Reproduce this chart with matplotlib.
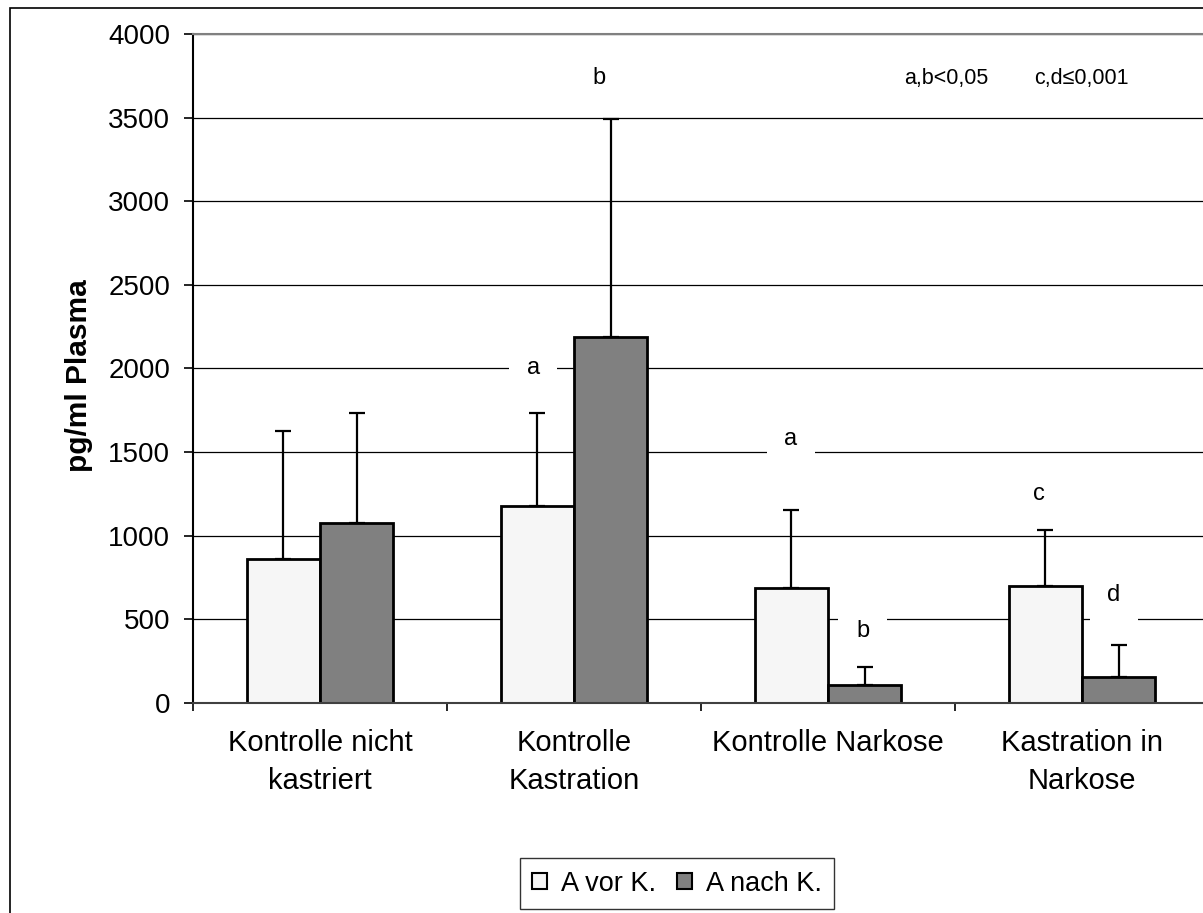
import matplotlib
matplotlib.use("Agg")
import matplotlib.pyplot as plt
from matplotlib.patches import Rectangle, Patch
import numpy as np

plt.rcParams['font.family'] = ['Liberation Sans', 'DejaVu Sans']

# Gruppen und Messwerte (pg/ml Plasma), Mittelwert und SD
gruppen = ["Kontrolle nicht\nkastriert", "Kontrolle\nKastration", "Kontrolle Narkose", "Kastration in\nNarkose"]
vor_k = [860, 1180, 685, 700]
vor_k_sd = [765, 552, 471, 334]
nach_k = [1075, 2190, 110, 155]
nach_k_sd = [657, 1302, 105, 194]
serien = ["A vor K.", "A nach K."]

# Signifikanzbuchstaben: (Text, x, y)
buchstaben = [("b", 1.098, 3735), ("a", 0.839, 2000), ("a", 1.854, 1580),
              ("b", 2.136, 430), ("c", 2.83, 1250), ("d", 3.126, 645)]
p_werte = [("a,b<0,05", 2.465, 3735), ("c,d\u22640,001", 2.996, 3735)]

fig = plt.figure(figsize=(12.03, 9.13), dpi=100)
ax = fig.add_axes([0.1604, 0.2300, 0.8446, 0.7328])

x = np.arange(len(gruppen))
breite = 0.289
farbe_vor = "#f6f6f6"
farbe_nach = "#808080"

ax.bar(x - breite / 2, vor_k, breite, color=farbe_vor, edgecolor="black", linewidth=2, zorder=2)
ax.bar(x + breite / 2, nach_k, breite, color=farbe_nach, edgecolor="black", linewidth=2, zorder=2)

# nur obere Fehlerbalken
ax.errorbar(x - breite / 2, vor_k, yerr=[np.zeros(4), vor_k_sd], fmt="none", ecolor="black",
            elinewidth=1.6, capsize=6, capthick=1.6, zorder=1.8)
ax.errorbar(x + breite / 2, nach_k, yerr=[np.zeros(4), nach_k_sd], fmt="none", ecolor="black",
            elinewidth=1.6, capsize=6, capthick=1.6, zorder=1.8)

for txt, bx, by in buchstaben:
    ax.text(bx, by, txt, ha="center", va="center", fontsize=17, zorder=1.5,
            bbox=dict(boxstyle="square,pad=0.75", facecolor="white", edgecolor="none"))
for txt, bx, by in p_werte:
    ax.text(bx, by, txt, ha="center", va="center", fontsize=15.5, zorder=1.5)

ax.set_xlim(-0.5, 3.5)
ax.set_ylim(0, 4000)
ax.set_yticks(np.arange(0, 4001, 500))
ax.tick_params(axis="y", labelsize=20, length=6.5, width=1.2, pad=10)
ax.set_xticks(x)
ax.set_xticklabels(gruppen, fontsize=21, linespacing=1.45)
ax.tick_params(axis="x", which="major", length=0, pad=19)
ax.set_xticks(np.arange(-0.5, 4, 1), minor=True)
ax.tick_params(axis="x", which="minor", length=6, width=1.2)

ax.set_axisbelow(True)
ax.yaxis.grid(True, color="black", linewidth=0.9)
ax.spines["right"].set_visible(False)
ax.spines["top"].set_color("#808080")
ax.spines["top"].set_linewidth(1.5)
ax.spines["left"].set_linewidth(1.5)
ax.spines["bottom"].set_color("#404040")
ax.spines["bottom"].set_linewidth(1.5)

ax.set_ylabel("pg/ml Plasma", fontsize=21.5, fontweight="bold")
ax.yaxis.set_label_coords(-0.098, 0.49)

handles = [Patch(facecolor=farbe_vor, edgecolor="black", linewidth=1.5),
           Patch(facecolor=farbe_nach, edgecolor="black", linewidth=1.5)]
leg = fig.legend(handles, serien, loc="center", bbox_to_anchor=(677 / 1203, 1 - 883.5 / 913),
                 ncol=2, fontsize=19.5, frameon=True, fancybox=False, shadow=False,
                 handlelength=0.55, handleheight=0.55, handletextpad=0.5, columnspacing=0.8,
                 borderpad=0.45, borderaxespad=0)
leg.get_frame().set_edgecolor("black")
leg.get_frame().set_linewidth(1.0)

# Rahmen um das gesamte Diagramm
fig.add_artist(Rectangle((10 / 1203, -0.05), 1.2, (913 - 8.5) / 913 + 0.05,
                         transform=fig.transFigure, fill=False, edgecolor="black", linewidth=1.2))

fig.savefig("out.png", dpi=100)
